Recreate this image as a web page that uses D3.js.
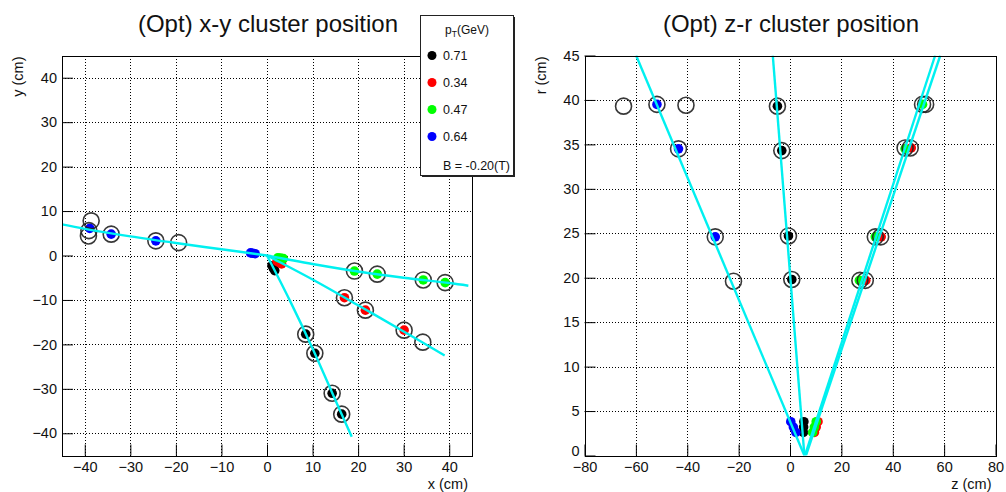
<!DOCTYPE html>
<html>
<head>
<meta charset="utf-8">
<script src="https://cdn.jsdelivr.net/npm/d3@7"></script>
<style>
  html, body { margin: 0; padding: 0; background: #fff; }
  svg { display: block; font-family: "Liberation Sans", Arial, Helvetica, sans-serif; }
</style>
</head>
<body>
<svg id="chart" width="1006" height="492"></svg>
<script>
// ---- track legend ----
const trackLabels = ["0.71", "0.34", "0.47", "0.64"];
const trackColors = ["#000000", "#ff0000", "#00ff00", "#0000ff"];
const fieldLabel = "B = -0.20(T)";

// ---- reconstructed clusters, x-y view (cm) ----
const xyBlack = [[1.1, -2.3], [1.4, -2.9], [1.7, -3.4], [8.5, -17.7], [10.5, -22.0], [14.3, -31.0], [16.4, -35.7]];
const xyRed   = [[2.2, -1.3], [2.7, -1.6], [3.2, -1.9], [17.0, -9.5], [21.6, -12.3], [30.1, -16.8]];
const xyGreen = [[2.4, -0.5], [3.0, -0.6], [3.6, -0.7], [19.2, -3.5], [24.2, -4.2], [34.3, -5.5], [39.1, -6.1]];
const xyBlue  = [[-2.6, 0.4], [-3.1, 0.5], [-3.6, 0.6], [-38.9, 6.1], [-34.2, 4.8], [-24.4, 3.3]];

// ---- truth hits, x-y view (cm) ----
const xyTruth = [
  [-38.6, 7.8], [-39.1, 5.6], [-39.2, 4.4], [-34.2, 4.8], [-24.4, 3.3], [-19.4, 2.9],
  [8.5, -17.7], [10.5, -22.0], [14.3, -31.0], [16.4, -35.7],
  [17.0, -9.5], [21.6, -12.3], [30.1, -16.8], [34.2, -19.5],
  [19.2, -3.5], [24.2, -4.2], [34.3, -5.5], [39.1, -6.1]
];

// ---- fitted tracks, x-y view (cm) ----
const xyTrackBlack = [[0, 0], [5, -10.1], [10, -20.9], [15, -32.5], [18.6, -40.8]];
const xyTrackRed   = [[0, 0], [10, -5.4], [20, -11.2], [30, -17.1], [39.0, -22.5]];
const xyTrackGreen = [[0, 0], [10, -1.9], [20, -3.6], [30, -5.0], [40, -6.2], [44.2, -6.8]];
const xyTrackBlue  = [[0, 0], [-10, 1.4], [-20, 2.8], [-30, 4.3], [-40, 6.0], [-45, 7.0]];

// ---- reconstructed clusters, z-r view (cm) ----
const zrBlack = [[5.2, 2.6], [5.3, 3.2], [5.4, 3.8], [0.7, 19.8], [-0.6, 24.7], [-3.2, 34.3], [-4.9, 39.3]];
const zrRed   = [[9.5, 2.6], [10.2, 3.2], [10.9, 3.8], [29.5, 19.7], [35.5, 24.6], [47.2, 34.6]];
const zrGreen = [[8.8, 2.6], [9.5, 3.2], [10.2, 3.8], [27.0, 19.7], [33.2, 24.6], [44.8, 34.5], [51.6, 39.5]];
const zrBlue  = [[2.3, 2.6], [1.3, 3.2], [0.3, 3.8], [-29.1, 24.6], [-43.4, 34.5], [-51.8, 39.5]];

// ---- truth hits, z-r view (cm) ----
const zrTruth = [
  [-64.8, 39.3], [-51.8, 39.5], [-40.5, 39.4], [-43.4, 34.5], [-29.1, 24.6], [-22.0, 19.6],
  [-4.9, 39.3], [-3.2, 34.3], [-0.6, 24.7], [0.7, 19.8],
  [51.6, 39.5], [44.8, 34.6], [33.2, 24.6], [27.2, 19.7],
  [52.8, 39.5], [46.8, 34.6], [35.3, 24.6], [29.3, 19.7]
];

// ---- fitted tracks, z-r view (cm) ----
const zrTrackBlack = [[5.6, 0], [-6.7, 45]];
const zrTrackRed   = [[6.2, 0], [58.5, 45]];
const zrTrackGreen = [[5.8, 0], [56.5, 45]];
const zrTrackBlue  = [[5.6, 0], [-59.9, 45]];

// ---- axis ticks ----
const xyMajor = [-40, -30, -20, -10, 0, 10, 20, 30, 40];
const xyMinor = d3.range(-44, 45, 2);
const zMajor = [-80, -60, -40, -20, 0, 20, 40, 60, 80];
const zMinor = d3.range(-80, 81, 5);
const rMajor = [0, 5, 10, 15, 20, 25, 30, 35, 40, 45];
const rMinor = d3.range(0, 46, 1);

const svg = d3.select("#chart");
const defs = svg.append("defs");

function panel(opts) {
  const { id, x, y, xMajorT, xMinorT, yMajorT, yMinorT, xGrid, yGrid, title, xTitle, yTitle,
          clusters, truth, tracks } = opts;
  const [x0, x1] = x.range();
  const [y0, y1] = y.range(); // y0 bottom, y1 top
  const g = svg.append("g");

  defs.append("clipPath").attr("id", id)
    .append("rect").attr("x", x0).attr("y", y1).attr("width", x1 - x0).attr("height", y0 - y1);

  // grid
  const grid = g.append("g").attr("stroke", "#000").attr("stroke-width", 1)
    .attr("stroke-dasharray", "1,2").attr("shape-rendering", "crispEdges");
  grid.selectAll("line.gx").data(xGrid).join("line")
    .attr("x1", d => Math.round(x(d)) + 0.5).attr("x2", d => Math.round(x(d)) + 0.5)
    .attr("y1", y0).attr("y2", y1);
  grid.selectAll("line.gy").data(yGrid).join("line")
    .attr("y1", d => Math.round(y(d)) + 0.5).attr("y2", d => Math.round(y(d)) + 0.5)
    .attr("x1", x0).attr("x2", x1);

  // axes (ticks inside the frame)
  const fmt = d3.format("");
  const bx = g.append("g").attr("transform", `translate(0,${y0})`);
  bx.call(d3.axisBottom(x).tickValues(xMinorT).tickSize(-6).tickFormat(""));
  bx.call(d3.axisBottom(x).tickValues(xMajorT).tickSize(-11).tickPadding(5.8).tickFormat(fmt));
  const ly = g.append("g").attr("transform", `translate(${x0},0)`);
  ly.call(d3.axisLeft(y).tickValues(yMinorT).tickSize(-6).tickFormat(""));
  ly.call(d3.axisLeft(y).tickValues(yMajorT).tickSize(-11).tickPadding(5).tickFormat(fmt));
  g.selectAll(".domain").remove();
  g.selectAll(".tick line").attr("stroke", "#000").attr("stroke-width", 1);
  g.selectAll(".tick text").attr("font-size", 14.5).attr("fill", "#111")
    .attr("font-family", "Liberation Sans, Arial, sans-serif");
  // the lowest left label sits just above the bottom axis labels
  ly.selectAll(".tick text").filter(d => d === y.domain()[0]).attr("dy", "0em");

  const plot = g.append("g").attr("clip-path", `url(#${id})`);

  // clusters
  clusters.forEach((pts, i) => {
    plot.append("g").selectAll("circle").data(pts).join("circle")
      .attr("cx", d => x(d[0])).attr("cy", d => y(d[1])).attr("r", 4.8)
      .attr("fill", trackColors[i]);
  });

  // truth hits
  plot.append("g").selectAll("circle").data(truth).join("circle")
    .attr("cx", d => x(d[0])).attr("cy", d => y(d[1])).attr("r", 8)
    .attr("fill", "none").attr("stroke", "#222").attr("stroke-width", 1.6).attr("stroke-opacity", 0.9);

  // fitted tracks
  const line = d3.line().x(d => x(d[0])).y(d => y(d[1])).curve(d3.curveCatmullRom.alpha(0.5));
  plot.append("g").selectAll("path").data(tracks).join("path")
    .attr("d", line).attr("fill", "none").attr("stroke", "#00f0f0").attr("stroke-width", 2.4);

  // frame
  g.append("rect").attr("x", x0 + 0.5).attr("y", y1 + 0.5)
    .attr("width", x1 - x0).attr("height", y0 - y1)
    .attr("fill", "none").attr("stroke", "#000").attr("stroke-width", 1)
    .attr("shape-rendering", "crispEdges");

  // titles
  g.append("text").attr("x", (x0 + x1) / 2 + 1).attr("y", 31.5).attr("text-anchor", "middle")
    .attr("font-size", 24).attr("fill", "#111").text(title);
  g.append("text").attr("x", x1 - 4).attr("y", 489).attr("text-anchor", "end")
    .attr("font-size", 14.5).attr("fill", "#111").text(xTitle);
  g.append("text").attr("transform", `translate(${x0 - 39},${y1 + 1}) rotate(-90)`)
    .attr("text-anchor", "end").attr("font-size", 14.5).attr("fill", "#111").text(yTitle);
}

const xL = d3.scaleLinear([-45, 45], [62, 472]);
const yL = d3.scaleLinear([-45, 45], [455.5, 55.5]);
panel({
  id: "clipXY", x: xL, y: yL,
  xMajorT: xyMajor, xMinorT: xyMinor, yMajorT: xyMajor, yMinorT: xyMinor,
  xGrid: xyMajor, yGrid: xyMajor,
  title: "(Opt) x-y cluster position", xTitle: "x (cm)", yTitle: "y (cm)",
  clusters: [xyBlack, xyRed, xyGreen, xyBlue],
  truth: xyTruth,
  tracks: [xyTrackBlack, xyTrackRed, xyTrackGreen, xyTrackBlue]
});

const zR = d3.scaleLinear([-80, 80], [584.5, 995.5]);
const rR = d3.scaleLinear([0, 45], [455.5, 55.5]);
panel({
  id: "clipZR", x: zR, y: rR,
  xMajorT: zMajor, xMinorT: zMinor, yMajorT: rMajor, yMinorT: rMinor,
  xGrid: zMajor.slice(1, -1), yGrid: rMajor.slice(1, -1),
  title: "(Opt) z-r cluster position", xTitle: "z (cm)", yTitle: "r (cm)",
  clusters: [zrBlack, zrRed, zrGreen, zrBlue],
  truth: zrTruth,
  tracks: [zrTrackBlack, zrTrackRed, zrTrackGreen, zrTrackBlue]
});

// ---- legend ----
const leg = svg.append("g");
const lx = 420.5, ly = 15.5, lw = 93, lh = 160;
leg.append("rect").attr("x", lx + 1.5).attr("y", ly + 1.5).attr("width", lw).attr("height", lh)
  .attr("fill", "#222");
leg.append("rect").attr("x", lx).attr("y", ly).attr("width", lw).attr("height", lh)
  .attr("fill", "#fff").attr("stroke", "#222").attr("stroke-width", 1);
const head = leg.append("text").attr("x", lx + lw / 2).attr("y", 33.5)
  .attr("text-anchor", "middle").attr("font-size", 12).attr("fill", "#111");
head.append("tspan").text("p");
head.append("tspan").attr("font-size", 8.5).attr("dy", 3.5).text("T");
head.append("tspan").attr("dy", -3.5).text("(GeV)");

const rowY = d3.scalePoint().domain(trackLabels).range([55.5, 136.5]);
const rows = leg.selectAll("g.row").data(trackLabels).join("g").attr("class", "row");
rows.append("circle").attr("cx", 432).attr("cy", d => rowY(d)).attr("r", 4.5)
  .attr("fill", (d, i) => trackColors[i]);
rows.append("text").attr("x", 443).attr("y", d => rowY(d) + 4.5)
  .attr("font-size", 12.5).attr("fill", "#111").text(d => d);
leg.append("text").attr("x", 443).attr("y", 169.5).attr("font-size", 12.5).attr("fill", "#111")
  .text(fieldLabel);
</script>
</body>
</html>
